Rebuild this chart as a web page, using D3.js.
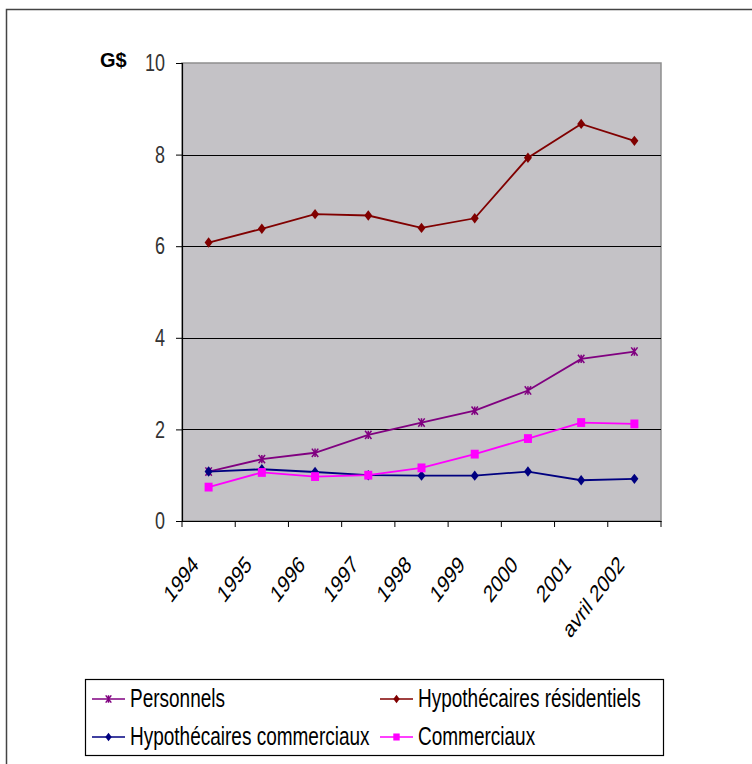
<!DOCTYPE html>
<html>
<head>
<meta charset="utf-8">
<script src="https://cdn.jsdelivr.net/npm/d3@7"></script>
<style>
  body { margin: 0; background: #fff; }
  svg { display: block; font-family: "Liberation Sans", Arial, sans-serif; }
</style>
</head>
<body>
<svg id="chart"></svg>
<script>
    // données (G$)
    var years = ["1994", "1995", "1996", "1997", "1998", "1999", "2000", "2001", "avril 2002"];
    var personnels = [1.08, 1.35, 1.49, 1.88, 2.15, 2.41, 2.85, 3.54, 3.70];
    var hypResidentiels = [6.08, 6.38, 6.70, 6.67, 6.40, 6.61, 7.93, 8.67, 8.30];
    var hypCommerciaux = [1.08, 1.13, 1.07, 1.00, 0.99, 0.99, 1.08, 0.89, 0.92];
    var commerciaux = [0.74, 1.06, 0.97, 1.00, 1.16, 1.46, 1.80, 2.15, 2.12];
    var yTicks = [0, 2, 4, 6, 8, 10];

    var series = [
        { name: "Personnels", values: personnels, color: "#800080", marker: "star" },
        { name: "Hypothécaires résidentiels", values: hypResidentiels, color: "#800000", marker: "diamond" },
        { name: "Hypothécaires commerciaux", values: hypCommerciaux, color: "#000080", marker: "diamond" },
        { name: "Commerciaux", values: commerciaux, color: "#ff00ff", marker: "square" }
    ];

    var W = 752, H = 764;
    var stretch = 1.33; // le texte de l'original est étiré verticalement

    var svg = d3.select("#chart")
        .attr("width", W)
        .attr("height", H);

    // cadre extérieur
    svg.append("rect")
        .attr("x", 6.5).attr("y", 9.5)
        .attr("width", W).attr("height", H)
        .attr("fill", "none")
        .attr("stroke", "#444")
        .attr("stroke-width", 1.5);

    var pLeft = 182, pRight = 661, pTop = 63, pBottom = 521;

    var x = d3.scaleBand().domain(years).range([pLeft, pRight]).padding(0);
    var y = d3.scaleLinear().domain([0, 10]).range([pBottom, pTop]);
    var cx = function(d, i) { return x(years[i]) + x.bandwidth() / 2; };

    // zone de tracé
    svg.append("rect")
        .attr("x", pLeft).attr("y", pTop)
        .attr("width", pRight - pLeft).attr("height", pBottom - pTop)
        .attr("fill", "#c4c2c6")
        .attr("stroke", "#8e8e8e")
        .attr("stroke-width", 1.5);

    // quadrillage
    svg.append("g")
        .selectAll("line")
        .data(yTicks.filter(function(t) { return t > 0 && t < 10; }))
        .join("line")
        .attr("x1", pLeft).attr("x2", pRight)
        .attr("y1", function(d) { return Math.round(y(d)) + 0.5; })
        .attr("y2", function(d) { return Math.round(y(d)) + 0.5; })
        .attr("stroke", "#000")
        .attr("stroke-width", 1.2);

    // axe Y
    var yAxis = svg.append("g")
        .attr("transform", "translate(" + pLeft + ",0)")
        .call(d3.axisLeft(y).tickValues(yTicks).tickSize(6).tickSizeOuter(6).tickPadding(11).tickFormat(d3.format("d")));
    yAxis.select(".domain").attr("stroke", "#000").attr("stroke-width", 1.2);
    yAxis.selectAll(".tick line").attr("stroke", "#000");
    yAxis.selectAll("text")
        .attr("font-size", 18)
        .attr("fill", "#333")
        .attr("font-family", "Liberation Sans, Arial, sans-serif")
        .attr("transform", "scale(1," + stretch + ")");

    // axe X
    var xAxis = svg.append("g")
        .attr("transform", "translate(0," + pBottom + ")")
        .call(d3.axisBottom(x).tickSize(0).tickSizeOuter(0).tickFormat(""));
    xAxis.select(".domain").attr("stroke", "#000").attr("stroke-width", 1.2);
    svg.append("g")
        .selectAll("line")
        .data(years.concat(["fin"]))
        .join("line")
        .attr("x1", function(d, i) { return pLeft + i * x.bandwidth(); })
        .attr("x2", function(d, i) { return pLeft + i * x.bandwidth(); })
        .attr("y1", pBottom).attr("y2", pBottom + 6)
        .attr("stroke", "#000");

    svg.append("g")
        .selectAll("text")
        .data(years)
        .join("text")
        .attr("transform", function(d, i) {
            return "translate(" + (cx(d, i) - 9) + "," + (pBottom + 45) + ") scale(1," + stretch + ") rotate(-45)";
        })
        .attr("text-anchor", "end")
        .attr("font-size", 18)
        .attr("fill", "#000")
        .text(function(d) { return d; });

    // unité
    svg.append("text")
        .attr("transform", "translate(100,67) scale(1,1.05)")
        .attr("font-size", 20)
        .attr("font-weight", "bold")
        .text("G$");

    // marqueurs (un peu plus hauts que larges, comme l'original)
    function drawMarker(g, type, color, s) {
        var h = s * 1.3;
        if (type === "diamond") {
            g.append("path")
                .attr("d", "M0," + (-h) + "L" + s + ",0L0," + h + "L" + (-s) + ",0Z")
                .attr("fill", color);
        } else if (type === "square") {
            g.append("rect")
                .attr("x", -s).attr("y", -s * 1.1)
                .attr("width", 2 * s).attr("height", 2.2 * s)
                .attr("fill", color);
        } else {
            var p = "M" + (-s) + "," + (-h) + "L" + s + "," + h +
                "M" + (-s) + "," + h + "L" + s + "," + (-h) +
                "M0," + (-h) + "L0," + h;
            g.append("path").attr("d", p).attr("stroke", color).attr("stroke-width", 1.5).attr("fill", "none");
        }
    }

    var line = d3.line()
        .x(function(d, i) { return cx(d, i); })
        .y(function(d) { return y(d); });

    series.forEach(function(s) {
        svg.append("path")
            .datum(s.values)
            .attr("d", line)
            .attr("fill", "none")
            .attr("stroke", s.color)
            .attr("stroke-width", 1.8);
        s.values.forEach(function(v, i) {
            var g = svg.append("g").attr("transform", "translate(" + cx(v, i) + "," + y(v) + ")");
            drawMarker(g, s.marker, s.color, s.marker === "square" ? 4 : (s.marker === "star" ? 3.2 : 4));
        });
    });

    // légende
    svg.append("rect")
        .attr("x", 85.5).attr("y", 679.5)
        .attr("width", 578).attr("height", 76)
        .attr("fill", "#fff")
        .attr("stroke", "#000")
        .attr("stroke-width", 1.2);

    var legendPos = [[92, 699], [380, 699], [92, 737], [380, 737]];
    series.forEach(function(s, i) {
        var p = legendPos[i];
        var g = svg.append("g").attr("transform", "translate(" + p[0] + "," + p[1] + ")");
        g.append("line")
            .attr("x1", 0).attr("x2", 33)
            .attr("stroke", s.color).attr("stroke-width", 1.5);
        var m = g.append("g").attr("transform", "translate(16.5,0)");
        drawMarker(m, s.marker, s.color, s.marker === "star" ? 2.8 : 3.2);
        g.append("text")
            .attr("transform", "translate(38,7.5) scale(1," + stretch + ")")
            .attr("font-size", 19)
            .text(s.name);
    });
</script>
</body>
</html>
